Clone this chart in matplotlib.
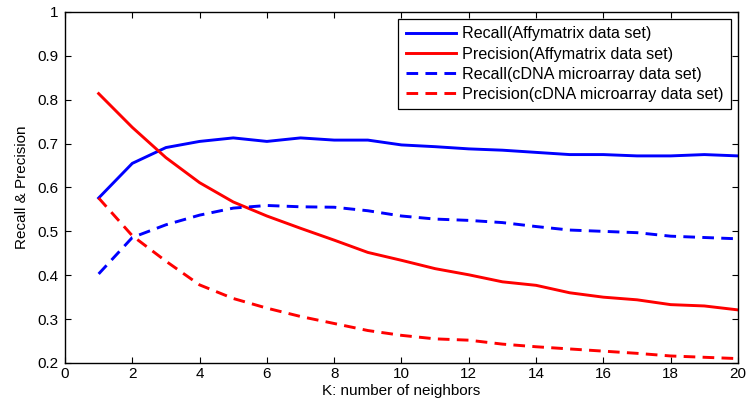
import matplotlib
matplotlib.use("Agg")
import matplotlib.pyplot as plt

plt.rcParams['font.family'] = ['Liberation Sans', 'DejaVu Sans']

K = list(range(1, 21))
recall_affy = [0.576, 0.655, 0.691, 0.705, 0.713, 0.705, 0.713, 0.708, 0.708, 0.697,
               0.693, 0.688, 0.685, 0.680, 0.675, 0.675, 0.672, 0.672, 0.675, 0.672]
precision_affy = [0.814, 0.737, 0.668, 0.611, 0.567, 0.535, 0.507, 0.480, 0.452, 0.434,
                  0.415, 0.401, 0.385, 0.377, 0.360, 0.350, 0.344, 0.333, 0.330, 0.321]
recall_cdna = [0.403, 0.486, 0.515, 0.537, 0.553, 0.559, 0.556, 0.555, 0.547, 0.535,
               0.528, 0.525, 0.520, 0.511, 0.503, 0.500, 0.497, 0.489, 0.486, 0.483]
precision_cdna = [0.576, 0.490, 0.432, 0.378, 0.347, 0.325, 0.306, 0.290, 0.274, 0.263,
                  0.255, 0.252, 0.243, 0.237, 0.232, 0.227, 0.222, 0.216, 0.213, 0.210]
labels = ['Recall(Affymatrix data set)', 'Precision(Affymatrix data set)',
          'Recall(cDNA microarray data set)', 'Precision(cDNA microarray data set)']

fig = plt.figure(figsize=(7.48, 4.09), dpi=100)
ax = fig.add_axes([0.0869, 0.1125, 0.8997, 0.8582])

lw = 2.1
dash = (0, (4.0, 2.5))
ax.plot(K, recall_affy, color='#0000ff', lw=lw, label=labels[0])
ax.plot(K, precision_affy, color='#ff0000', lw=lw, label=labels[1])
ax.plot(K, recall_cdna, color='#0000ff', lw=lw, ls=dash, label=labels[2])
ax.plot(K, precision_cdna, color='#ff0000', lw=lw, ls=dash, label=labels[3])

ax.set_xlim(0, 20)
ax.set_ylim(0.2, 1.0)
ax.set_xticks(range(0, 21, 2))
ax.set_yticks([0.2, 0.3, 0.4, 0.5, 0.6, 0.7, 0.8, 0.9, 1.0])
ax.set_yticklabels(['0.2', '0.3', '0.4', '0.5', '0.6', '0.7', '0.8', '0.9', '1'])
ax.tick_params(direction='in', top=True, right=True, labelsize=11, length=4, width=0.8)
ax.tick_params(axis='y', pad=5)
ax.tick_params(axis='x', pad=3)
for s in ax.spines.values():
    s.set_linewidth(1.0)
ax.set_xlabel('K: number of neighbors', fontsize=11, labelpad=2)
ax.set_ylabel('Recall & Precision', fontsize=11, labelpad=6)

leg = ax.legend(loc='upper right', fontsize=11.6, frameon=True, fancybox=False,
                edgecolor='black', framealpha=1, borderpad=0.45, labelspacing=0.32,
                handlelength=3.1, handletextpad=0.4, borderaxespad=0.45)
leg.get_frame().set_linewidth(0.9)

fig.savefig('out.png', dpi=100)
